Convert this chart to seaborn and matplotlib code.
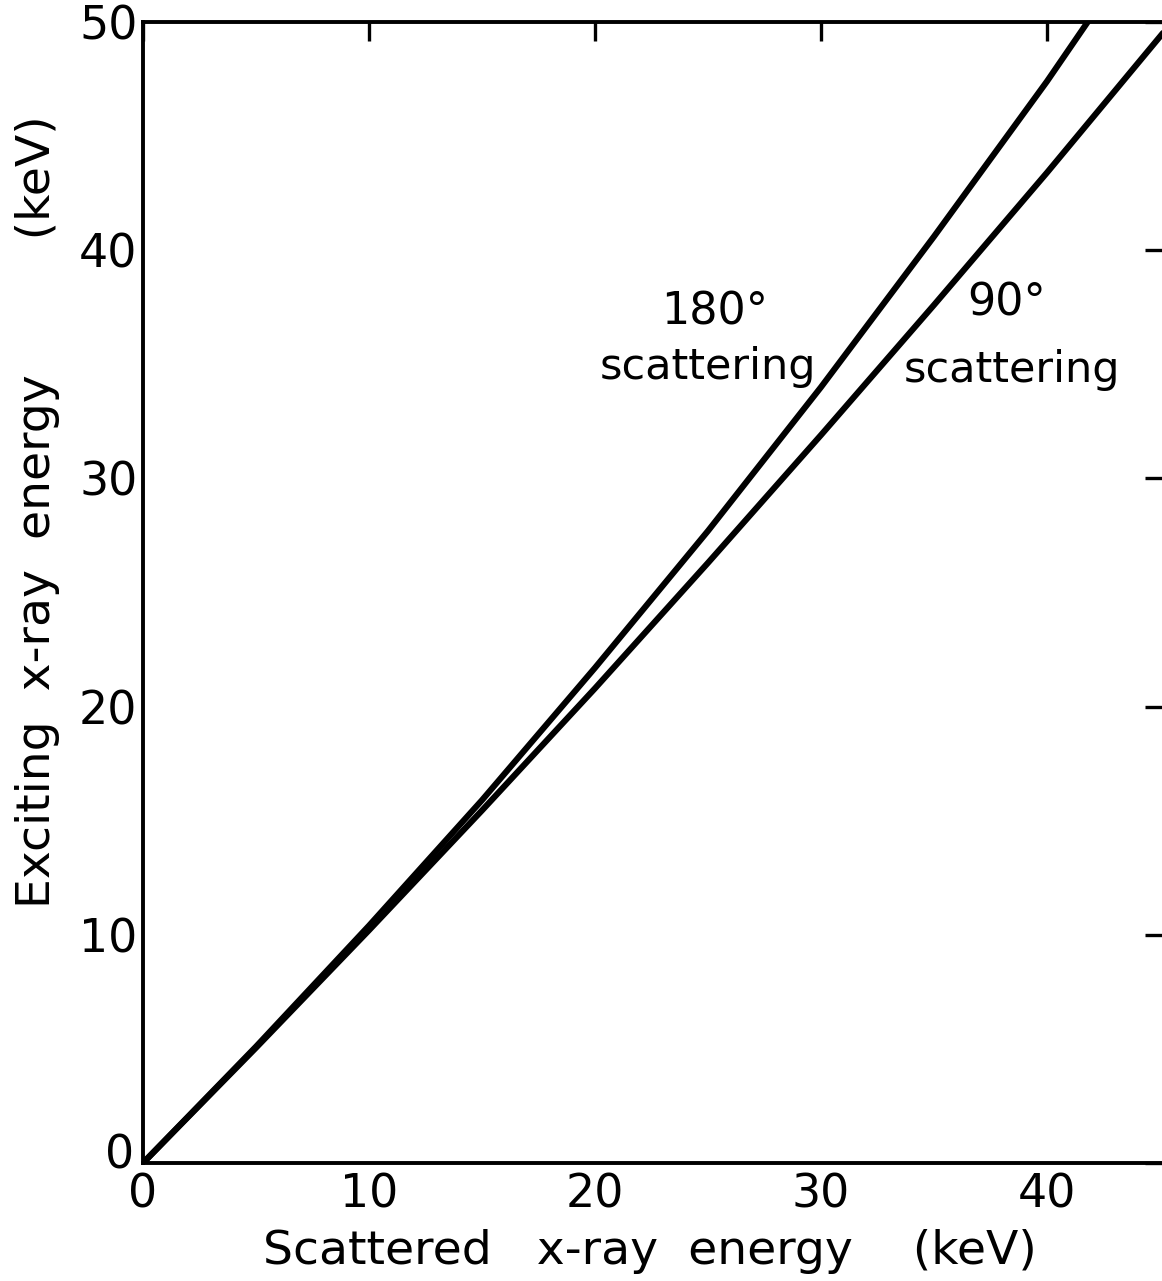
import matplotlib
matplotlib.use("Agg")
import matplotlib.pyplot as plt
import matplotlib.transforms as mtransforms
import seaborn as sns
import pandas as pd

# Data
scattered_180 = [0, 5, 10, 15, 20, 25, 30, 35, 40, 41.8]
exciting_180 = [0, 5.1, 10.4, 15.9, 21.7, 27.7, 34.0, 40.6, 47.4, 50.0]
scattered_90 = [0, 5, 10, 15, 20, 25, 30, 35, 40, 45.2]
exciting_90 = [0, 5.05, 10.2, 15.45, 20.8, 26.3, 31.9, 37.6, 43.4, 49.6]
x_ticks = [0, 10, 20, 30, 40]
y_ticks = [0, 10, 20, 30, 40, 50]

df = pd.concat([
    pd.DataFrame({"scattered": scattered_180, "exciting": exciting_180, "angle": "180"}),
    pd.DataFrame({"scattered": scattered_90, "exciting": exciting_90, "angle": "90"}),
])

sns.set_theme(style="white")
plt.rcParams["font.family"] = ["DejaVu Sans"]
plt.rcParams["text.color"] = "black"

W, H = 1162, 1281
fig = plt.figure(figsize=(W / 100, H / 100), dpi=100)
left_px, right_px, bottom_px, top_px = 143, 1164, 1163, 22
ax = fig.add_axes([left_px / W, 1 - bottom_px / H,
                   (right_px - left_px) / W, (bottom_px - top_px) / H])

sns.lineplot(data=df, x="scattered", y="exciting", units="angle", estimator=None,
             sort=False, color="black", linewidth=4.4, ax=ax, legend=False)

ax.set_xlim(0, (right_px - left_px) / 22.6)
ax.set_ylim(0, 50)
ax.set_xticks(x_ticks)
ax.set_yticks(y_ticks)
ax.set_xlabel("")
ax.set_ylabel("")
for s in ax.spines.values():
    s.set_visible(True)
    s.set_color("black")
    s.set_linewidth(2.8)
ax.tick_params(axis="both", which="both", direction="in", length=14, width=2.4,
               color="black", top=True, right=True, labelsize=33, pad=4,
               labelcolor="black")
ax.tick_params(axis="x", pad=7)

# raise the y-axis "0" label slightly, as in the reference, so it clears the x "0"
fig.canvas.draw()
ylab0 = ax.get_yticklabels()[0]
ylab0.set_transform(ylab0.get_transform() +
                    mtransforms.ScaledTranslation(-3 / 100, 12 / 100, fig.dpi_scale_trans))

ax.text(25.3, 37.3, "180°", fontsize=32, ha="center", va="center", color="black")
ax.text(25.0, 34.9, "scattering", fontsize=31, ha="center", va="center", color="black")
ax.text(38.2, 37.7, "90°", fontsize=32, ha="center", va="center", color="black")
ax.text(38.45, 34.75, "scattering", fontsize=31, ha="center", va="center", color="black")

fig.text(650 / W, 1 - 1252 / H, "Scattered   x-ray  energy    (keV)",
         fontsize=34, ha="center", va="center", color="black")
fig.text(38 / W, 1 - 512 / H, "Exciting  x-ray  energy         (keV)",
         fontsize=34, ha="center", va="center", rotation=90, color="black")

fig.savefig("out.png", dpi=100, facecolor="white")
